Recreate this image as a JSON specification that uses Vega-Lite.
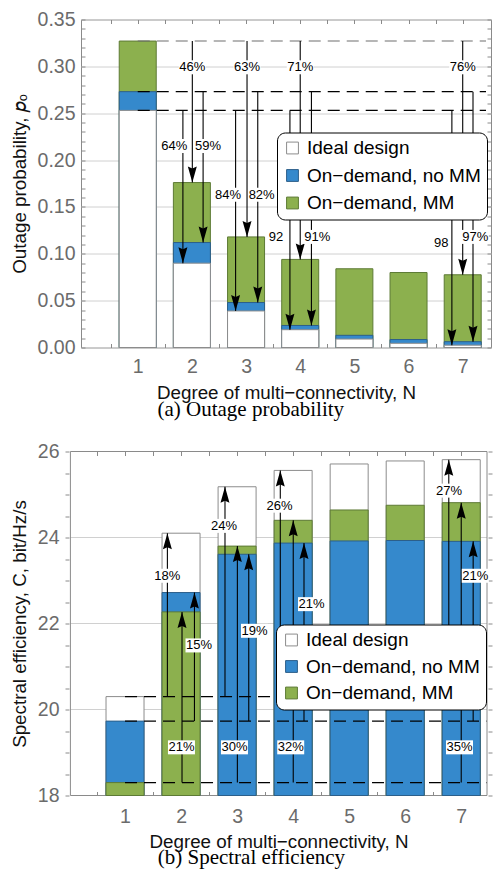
{
  "$schema": "https://vega.github.io/schema/vega-lite/v6.json",
  "background": "white",
  "padding": {"left": 9, "top": 8.5, "right": 3, "bottom": 0},
  "config": {
    "font": "Liberation Sans",
    "view": {"stroke": "#8a8a8a", "strokeWidth": 1},
    "axis": {
      "domain": false,
      "labelFont": "Liberation Sans",
      "labelFontSize": 19.5,
      "labelColor": "#6b6b6b",
      "labelFlush": false,
      "labelOverlap": false,
      "labelBound": false,
      "tickColor": "#8a8a8a",
      "tickWidth": 1,
      "gridColor": "#d0d0d0",
      "gridWidth": 1,
      "titleFont": "Liberation Sans",
      "titleFontSize": 18.8,
      "titleFontWeight": "normal",
      "titleColor": "#111111"
    },
    "title": {"font": "Liberation Serif", "fontSize": 21, "fontWeight": "normal", "color": "black"}
  },
  "resolve": {"scale": {"fill": "independent", "stroke": "independent"}, "legend": {"fill": "independent", "stroke": "independent"}},
  "datasets": {
    "outBars": [
      {"N": 1, "series": "On−demand, MM", "value": 0.327},
      {"N": 1, "series": "On−demand, no MM", "value": 0.273},
      {"N": 1, "series": "Ideal design", "value": 0.253},
      {"N": 2, "series": "On−demand, MM", "value": 0.176},
      {"N": 2, "series": "On−demand, no MM", "value": 0.112},
      {"N": 2, "series": "Ideal design", "value": 0.09},
      {"N": 3, "series": "On−demand, MM", "value": 0.118},
      {"N": 3, "series": "On−demand, no MM", "value": 0.048},
      {"N": 3, "series": "Ideal design", "value": 0.039},
      {"N": 4, "series": "On−demand, MM", "value": 0.094},
      {"N": 4, "series": "On−demand, no MM", "value": 0.0235},
      {"N": 4, "series": "Ideal design", "value": 0.019},
      {"N": 5, "series": "On−demand, MM", "value": 0.084},
      {"N": 5, "series": "On−demand, no MM", "value": 0.013},
      {"N": 5, "series": "Ideal design", "value": 0.009},
      {"N": 6, "series": "On−demand, MM", "value": 0.08},
      {"N": 6, "series": "On−demand, no MM", "value": 0.0085},
      {"N": 6, "series": "Ideal design", "value": 0.0045},
      {"N": 7, "series": "On−demand, MM", "value": 0.0776},
      {"N": 7, "series": "On−demand, no MM", "value": 0.0062},
      {"N": 7, "series": "Ideal design", "value": 0.0025}
    ],
    "outRefs": [
      {"start": 1, "level": 0.327},
      {"start": 1, "level": 0.273},
      {"start": 1, "level": 0.253}
    ],
    "outArrows": [
      {"pos": 1.834, "from": 0.253, "to": 0.09},
      {"pos": 2.008, "from": 0.327, "to": 0.176},
      {"pos": 2.207, "from": 0.273, "to": 0.112},
      {"pos": 2.807, "from": 0.253, "to": 0.039},
      {"pos": 3.018, "from": 0.327, "to": 0.118},
      {"pos": 3.216, "from": 0.273, "to": 0.048},
      {"pos": 3.81, "from": 0.253, "to": 0.019},
      {"pos": 4.0, "from": 0.327, "to": 0.094},
      {"pos": 4.207, "from": 0.273, "to": 0.0235},
      {"pos": 6.8, "from": 0.253, "to": 0.0025},
      {"pos": 7.0, "from": 0.327, "to": 0.0776},
      {"pos": 7.19, "from": 0.273, "to": 0.0062}
    ],
    "outLabels": [
      {"lx": 2.008, "ly": 0.299, "text": "46%"},
      {"lx": 3.018, "ly": 0.299, "text": "63%"},
      {"lx": 4.0, "ly": 0.299, "text": "71%"},
      {"lx": 7.0, "ly": 0.299, "text": "76%"},
      {"lx": 1.675, "ly": 0.215, "text": "64%"},
      {"lx": 2.297, "ly": 0.215, "text": "59%"},
      {"lx": 2.667, "ly": 0.163, "text": "84%"},
      {"lx": 3.288, "ly": 0.163, "text": "82%"},
      {"lx": 3.553, "ly": 0.118, "text": "92"},
      {"lx": 4.315, "ly": 0.118, "text": "91%"},
      {"lx": 6.604, "ly": 0.112, "text": "98"},
      {"lx": 7.234, "ly": 0.118, "text": "97%"}
    ],
    "seBars": [
      {"N": 1, "series": "Ideal design", "value": 20.3},
      {"N": 1, "series": "On−demand, no MM", "value": 19.73},
      {"N": 1, "series": "On−demand, MM", "value": 18.3},
      {"N": 2, "series": "Ideal design", "value": 24.1},
      {"N": 2, "series": "On−demand, no MM", "value": 22.72},
      {"N": 2, "series": "On−demand, MM", "value": 22.27},
      {"N": 3, "series": "Ideal design", "value": 25.18},
      {"N": 3, "series": "On−demand, MM", "value": 23.8},
      {"N": 3, "series": "On−demand, no MM", "value": 23.61},
      {"N": 4, "series": "Ideal design", "value": 25.56},
      {"N": 4, "series": "On−demand, MM", "value": 24.4},
      {"N": 4, "series": "On−demand, no MM", "value": 23.87},
      {"N": 5, "series": "Ideal design", "value": 25.71},
      {"N": 5, "series": "On−demand, MM", "value": 24.64},
      {"N": 5, "series": "On−demand, no MM", "value": 23.92},
      {"N": 6, "series": "Ideal design", "value": 25.78},
      {"N": 6, "series": "On−demand, MM", "value": 24.75},
      {"N": 6, "series": "On−demand, no MM", "value": 23.93},
      {"N": 7, "series": "Ideal design", "value": 25.81},
      {"N": 7, "series": "On−demand, MM", "value": 24.81},
      {"N": 7, "series": "On−demand, no MM", "value": 23.91}
    ],
    "seGrid": [
      {"level": 20},
      {"level": 22},
      {"level": 24}
    ],
    "seRefs": [
      {"start": 1, "level": 20.3},
      {"start": 1, "level": 19.73},
      {"start": 1, "level": 18.3}
    ],
    "seArrows": [
      {"pos": 1.756, "from": 20.3, "to": 24.1},
      {"pos": 2.017, "from": 18.3, "to": 22.27},
      {"pos": 2.239, "from": 19.73, "to": 22.72},
      {"pos": 2.784, "from": 20.3, "to": 25.18},
      {"pos": 3.005, "from": 18.3, "to": 23.8},
      {"pos": 3.208, "from": 19.73, "to": 23.61},
      {"pos": 3.771, "from": 20.3, "to": 25.56},
      {"pos": 4.002, "from": 18.3, "to": 24.4},
      {"pos": 4.194, "from": 19.73, "to": 23.87},
      {"pos": 6.778, "from": 20.3, "to": 25.81},
      {"pos": 7.0, "from": 18.3, "to": 24.81},
      {"pos": 7.213, "from": 19.73, "to": 23.91}
    ],
    "seLabels": [
      {"lx": 1.756, "ly": 23.11, "text": "18%"},
      {"lx": 2.32, "ly": 21.49, "text": "15%"},
      {"lx": 2.007, "ly": 19.12, "text": "21%"},
      {"lx": 2.766, "ly": 24.27, "text": "24%"},
      {"lx": 2.953, "ly": 19.12, "text": "30%"},
      {"lx": 3.31, "ly": 21.83, "text": "19%"},
      {"lx": 3.759, "ly": 24.74, "text": "26%"},
      {"lx": 3.957, "ly": 19.12, "text": "32%"},
      {"lx": 4.328, "ly": 22.45, "text": "21%"},
      {"lx": 6.783, "ly": 25.09, "text": "27%"},
      {"lx": 6.969, "ly": 19.12, "text": "35%"},
      {"lx": 7.25, "ly": 23.11, "text": "21%"}
    ]
  },
  "concat": [
    {
      "width": 410,
      "height": 328,
      "title": {"text": "(a) Outage probability", "orient": "bottom", "anchor": "middle", "frame": "bounds", "offset": -3},
      "resolve": {"axis": {"x": "independent", "y": "independent"}},
      "layer": [
        {
          "data": {"name": "outBars"},
          "mark": {"type": "bar", "orient": "vertical", "width": 37, "strokeWidth": 1},
          "encoding": {
            "x": {"field": "N", "type": "quantitative", "scale": {"domain": [0.045, 7.43], "nice": false, "zero": false},
              "axis": {"orient": "bottom", "values": [0.5,1,1.5,2,2.5,3,3.5,4,4.5,5,5.5,6,6.5,7], "labelExpr": "datum.value % 1 === 0 ? format(datum.value, 'd') : ''", "tickSize": -4, "labelPadding": 13.6, "title": "Degree of multi−connectivity, N", "titlePadding": 8, "grid": false}},
            "y": {"field": "value", "type": "quantitative", "stack": null, "scale": {"domain": [0, 0.35], "nice": false, "zero": true},
              "axis": {"orient": "left", "values": [0,0.01,0.02,0.03,0.04,0.05,0.06,0.07,0.08,0.09,0.1,0.11,0.12,0.13,0.14,0.15,0.16,0.17,0.18,0.19,0.2,0.21,0.22,0.23,0.24,0.25,0.26,0.27,0.28,0.29,0.3,0.31,0.32,0.33,0.34,0.35], "labelExpr": "round(datum.value*100) % 5 === 0 ? format(datum.value, '.2f') : ''", "tickSize": -4, "labelPadding": 10, "title": "Outage probability, 𝑝ₒ", "titlePadding": 8, "grid": true, "gridOpacity": {"condition": {"test": "round(datum.value*100) % 5 === 0", "value": 1}, "value": 0}}},
            "y2": {"datum": 0},
            "fill": {"field": "series", "type": "nominal",
              "scale": {"domain": ["Ideal design", "On−demand, no MM", "On−demand, MM"], "range": ["#ffffff", "#3589cc", "#8cb04e"]},
              "legend": {"title": null, "orient": "none", "legendX": 196, "legendY": 113, "fillColor": "white", "strokeColor": "black", "cornerRadius": 8, "padding": 6, "labelFontSize": 19, "labelFont": "Liberation Sans", "labelColor": "black", "labelLimit": 400, "symbolType": "square", "symbolSize": 140, "rowPadding": 7.5, "labelOffset": 5, "symbolStrokeWidth": 1}},
            "stroke": {"field": "series", "type": "nominal",
              "scale": {"domain": ["Ideal design", "On−demand, no MM", "On−demand, MM"], "range": ["#8c8c8c", "#2c5f8a", "#5d7a35"]},
              "legend": {"title": null, "orient": "none", "legendX": 196, "legendY": 113, "fillColor": "white", "strokeColor": "black", "cornerRadius": 8, "padding": 6, "labelFontSize": 19, "labelFont": "Liberation Sans", "labelColor": "black", "labelLimit": 400, "symbolType": "square", "symbolSize": 140, "rowPadding": 7.5, "labelOffset": 5, "symbolStrokeWidth": 1}}
          }
        },
        {
          "data": {"name": "outRefs"},
          "mark": {"type": "rule", "strokeDash": [12, 7], "strokeWidth": 1.1},
          "encoding": {
            "x": {"field": "start", "type": "quantitative", "scale": {"domain": [0.045, 7.43], "nice": false, "zero": false},
              "axis": {"orient": "top", "values": [0.5,1,1.5,2,2.5,3,3.5,4,4.5,5,5.5,6,6.5,7], "labels": false, "tickSize": -4, "title": null, "grid": false, "minExtent": 0}},
            "x2": {"datum": 7.43},
            "y": {"field": "level", "type": "quantitative", "scale": {"domain": [0, 0.35], "nice": false, "zero": true},
              "axis": {"orient": "right", "values": [0,0.01,0.02,0.03,0.04,0.05,0.06,0.07,0.08,0.09,0.1,0.11,0.12,0.13,0.14,0.15,0.16,0.17,0.18,0.19,0.2,0.21,0.22,0.23,0.24,0.25,0.26,0.27,0.28,0.29,0.3,0.31,0.32,0.33,0.34,0.35], "labels": false, "tickSize": -4, "title": null, "grid": false, "minExtent": 0}},
            "color": {"condition": {"test": "datum.level > 0.3", "value": "#6e6e6e"}, "value": "black"}
          }
        },
        {
          "data": {"name": "outArrows"},
          "mark": {"type": "rule", "color": "black", "strokeWidth": 1.1},
          "encoding": {
            "x": {"field": "pos", "type": "quantitative", "scale": {"domain": [0.045, 7.43], "nice": false, "zero": false}, "axis": null},
            "y": {"field": "from", "type": "quantitative", "scale": {"domain": [0, 0.35], "nice": false, "zero": true}, "axis": null},
            "y2": {"field": "to"}
          }
        },
        {
          "data": {"name": "outArrows"},
          "mark": {"type": "point", "filled": true, "opacity": 1, "color": "black", "strokeWidth": 0, "size": 256, "shape": "M -0.56 -2 L 0 -1.75 L 0.56 -2 L 0 0 Z"},
          "encoding": {
            "x": {"field": "pos", "type": "quantitative", "scale": {"domain": [0.045, 7.43], "nice": false, "zero": false}, "axis": null},
            "y": {"field": "to", "type": "quantitative", "scale": {"domain": [0, 0.35], "nice": false, "zero": true}, "axis": null}
          }
        },
        {
          "data": {"name": "outLabels"},
          "transform": [{"filter": "length(datum.text) === 3"}],
          "mark": {"type": "point", "filled": true, "opacity": 1, "color": "white", "strokeWidth": 0, "size": 400, "shape": "M -1.35 -0.7 L 1.35 -0.7 L 1.35 0.7 L -1.35 0.7 Z"},
          "encoding": {
            "x": {"field": "lx", "type": "quantitative", "scale": {"domain": [0.045, 7.43], "nice": false, "zero": false}, "axis": null},
            "y": {"field": "ly", "type": "quantitative", "scale": {"domain": [0, 0.35], "nice": false, "zero": true}, "axis": null}
          }
        },
        {
          "data": {"name": "outLabels"},
          "transform": [{"filter": "length(datum.text) === 2"}],
          "mark": {"type": "point", "filled": true, "opacity": 1, "color": "white", "strokeWidth": 0, "size": 400, "shape": "M -0.85 -0.7 L 0.85 -0.7 L 0.85 0.7 L -0.85 0.7 Z"},
          "encoding": {
            "x": {"field": "lx", "type": "quantitative", "scale": {"domain": [0.045, 7.43], "nice": false, "zero": false}, "axis": null},
            "y": {"field": "ly", "type": "quantitative", "scale": {"domain": [0, 0.35], "nice": false, "zero": true}, "axis": null}
          }
        },
        {
          "data": {"name": "outLabels"},
          "mark": {"type": "text", "fontSize": 13, "font": "Liberation Sans", "color": "black", "align": "center", "baseline": "middle"},
          "encoding": {
            "x": {"field": "lx", "type": "quantitative", "scale": {"domain": [0.045, 7.43], "nice": false, "zero": false}, "axis": null},
            "y": {"field": "ly", "type": "quantitative", "scale": {"domain": [0, 0.35], "nice": false, "zero": true}, "axis": null},
            "text": {"field": "text", "type": "nominal"}
          }
        }
      ]
    },
    {
      "width": 411,
      "height": 344,
      "view": {"stroke": null},
      "title": {"text": "(b) Spectral efficiency", "orient": "bottom", "anchor": "middle", "frame": "bounds", "offset": -4.4},
      "resolve": {"axis": {"x": "independent", "y": "independent"}},
      "layer": [
        {
          "data": {"name": "seGrid"},
          "mark": {"type": "rule", "color": "#d0d0d0", "strokeWidth": 1},
          "encoding": {
            "x": {"datum": 0.025, "type": "quantitative", "scale": {"domain": [0.3035, 7.46], "nice": false, "zero": false}, "axis": null},
            "x2": {"datum": 7.46},
            "y": {"field": "level", "type": "quantitative", "scale": {"domain": [18, 26], "nice": false, "zero": false}, "axis": null}
          }
        },
        {
          "data": {"values": [{}]},
          "mark": {"type": "rect", "filled": false, "fill": null, "stroke": "#8a8a8a", "strokeWidth": 1},
          "encoding": {
            "x": {"datum": 0.025, "type": "quantitative", "scale": {"domain": [0.3035, 7.46], "nice": false, "zero": false}, "axis": null},
            "x2": {"datum": 7.46},
            "y": {"datum": 18, "type": "quantitative", "scale": {"domain": [18, 26], "nice": false, "zero": false}, "axis": null},
            "y2": {"datum": 26}
          }
        },
        {
          "data": {"name": "seBars"},
          "mark": {"type": "bar", "orient": "vertical", "width": 38, "strokeWidth": 1},
          "encoding": {
            "x": {"field": "N", "type": "quantitative", "scale": {"domain": [0.3035, 7.46], "nice": false, "zero": false},
              "axis": {"orient": "bottom", "values": [0.5,1,1.5,2,2.5,3,3.5,4,4.5,5,5.5,6,6.5,7], "labelExpr": "datum.value % 1 === 0 ? format(datum.value, 'd') : ''", "tickSize": -4, "labelPadding": 15.5, "title": "Degree of multi−connectivity, N", "titlePadding": 7, "titleX": 197.5, "grid": false}},
            "y": {"field": "value", "type": "quantitative", "stack": null, "scale": {"domain": [18, 26], "nice": false, "zero": false},
              "axis": {"orient": "left", "offset": 16, "values": [18,18.5,19,19.5,20,20.5,21,21.5,22,22.5,23,23.5,24,24.5,25,25.5,26], "labelExpr": "datum.value % 2 === 0 ? format(datum.value, 'd') : ''", "tickSize": -4, "labelPadding": 10, "title": "Spectral efficiency, C, bit/Hz/s", "titlePadding": 8, "grid": false}},
            "y2": {"datum": 18},
            "fill": {"field": "series", "type": "nominal",
              "scale": {"domain": ["Ideal design", "On−demand, no MM", "On−demand, MM"], "range": ["#ffffff", "#3589cc", "#8cb04e"]},
              "legend": {"title": null, "orient": "none", "legendX": 195, "legendY": 173, "fillColor": "white", "strokeColor": "black", "cornerRadius": 8, "padding": 6, "labelFontSize": 19, "labelFont": "Liberation Sans", "labelColor": "black", "labelLimit": 400, "symbolType": "square", "symbolSize": 140, "rowPadding": 6.5, "labelOffset": 5, "symbolStrokeWidth": 1}},
            "stroke": {"field": "series", "type": "nominal",
              "scale": {"domain": ["Ideal design", "On−demand, no MM", "On−demand, MM"], "range": ["#8c8c8c", "#2c5f8a", "#5d7a35"]},
              "legend": {"title": null, "orient": "none", "legendX": 195, "legendY": 173, "fillColor": "white", "strokeColor": "black", "cornerRadius": 8, "padding": 6, "labelFontSize": 19, "labelFont": "Liberation Sans", "labelColor": "black", "labelLimit": 400, "symbolType": "square", "symbolSize": 140, "rowPadding": 6.5, "labelOffset": 5, "symbolStrokeWidth": 1}}
          }
        },
        {
          "data": {"name": "seRefs"},
          "mark": {"type": "rule", "strokeDash": [12, 7], "strokeWidth": 1.1, "color": "black"},
          "encoding": {
            "x": {"field": "start", "type": "quantitative", "scale": {"domain": [0.3035, 7.46], "nice": false, "zero": false},
              "axis": {"orient": "top", "values": [0.5,1,1.5,2,2.5,3,3.5,4,4.5,5,5.5,6,6.5,7], "labels": false, "tickSize": -4, "title": null, "grid": false, "minExtent": 0}},
            "x2": {"datum": 7.45},
            "y": {"field": "level", "type": "quantitative", "scale": {"domain": [18, 26], "nice": false, "zero": false},
              "axis": {"orient": "right", "values": [18,18.5,19,19.5,20,20.5,21,21.5,22,22.5,23,23.5,24,24.5,25,25.5,26], "labels": false, "tickSize": -4, "title": null, "grid": false, "minExtent": 0}}
          }
        },
        {
          "data": {"name": "seArrows"},
          "mark": {"type": "rule", "color": "black", "strokeWidth": 1.1},
          "encoding": {
            "x": {"field": "pos", "type": "quantitative", "scale": {"domain": [0.3035, 7.46], "nice": false, "zero": false}, "axis": null},
            "y": {"field": "from", "type": "quantitative", "scale": {"domain": [18, 26], "nice": false, "zero": false}, "axis": null},
            "y2": {"field": "to"}
          }
        },
        {
          "data": {"name": "seArrows"},
          "mark": {"type": "point", "filled": true, "opacity": 1, "color": "black", "strokeWidth": 0, "size": 256, "shape": "M -0.56 2 L 0 1.75 L 0.56 2 L 0 0 Z"},
          "encoding": {
            "x": {"field": "pos", "type": "quantitative", "scale": {"domain": [0.3035, 7.46], "nice": false, "zero": false}, "axis": null},
            "y": {"field": "to", "type": "quantitative", "scale": {"domain": [18, 26], "nice": false, "zero": false}, "axis": null}
          }
        },
        {
          "data": {"name": "seLabels"},
          "mark": {"type": "point", "filled": true, "opacity": 1, "color": "white", "strokeWidth": 0, "size": 400, "shape": "M -1.35 -0.7 L 1.35 -0.7 L 1.35 0.7 L -1.35 0.7 Z"},
          "encoding": {
            "x": {"field": "lx", "type": "quantitative", "scale": {"domain": [0.3035, 7.46], "nice": false, "zero": false}, "axis": null},
            "y": {"field": "ly", "type": "quantitative", "scale": {"domain": [18, 26], "nice": false, "zero": false}, "axis": null}
          }
        },
        {
          "data": {"name": "seLabels"},
          "mark": {"type": "text", "fontSize": 13, "font": "Liberation Sans", "color": "black", "align": "center", "baseline": "middle"},
          "encoding": {
            "x": {"field": "lx", "type": "quantitative", "scale": {"domain": [0.3035, 7.46], "nice": false, "zero": false}, "axis": null},
            "y": {"field": "ly", "type": "quantitative", "scale": {"domain": [18, 26], "nice": false, "zero": false}, "axis": null},
            "text": {"field": "text", "type": "nominal"}
          }
        }
      ]
    }
  ],
  "columns": 1,
  "align": "none",
  "spacing": 20
}
